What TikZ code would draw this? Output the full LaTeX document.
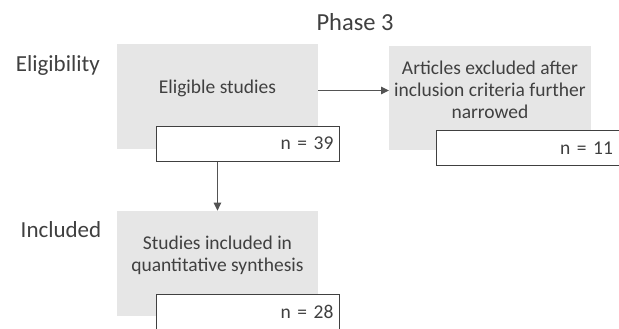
\documentclass[tikz,border=0pt]{standalone}
\usepackage{fontspec}
\setmainfont{Carlito}
\usetikzlibrary{arrows.meta}

\definecolor{flowgray}{HTML}{E6E6E6}
\definecolor{flowink}{HTML}{404040}
\newcommand\flowtitlestyle{\fontsize{24.5}{28}\selectfont}
\newcommand\flowlabelstyle{\fontsize{23}{27}\selectfont}
\newcommand\flowtextstyle{\fontsize{19.5}{22}\selectfont}
\newcommand\flowboxwidth{201.5pt}
\newcommand\flowboxheight{104pt}
\newcommand\flowcountwidth{183pt}
\newcommand\flowcountheight{35pt}
\newcommand\flowtextlift{8pt}

\tikzset{
  flowbox/.style={fill=flowgray, draw=none, anchor=north west, inner sep=0pt,
    minimum width=\flowboxwidth, minimum height=\flowboxheight},
  flowtext/.style={text=flowink, align=center, inner sep=0pt, font=\flowtextstyle},
  flowcount/.style={fill=white, draw=flowink, line width=.9pt, anchor=north west,
    inner sep=0pt, minimum height=\flowcountheight, text width=\flowcountwidth-12pt,
    align=right, text=flowink, font=\flowtextstyle},
  flowlabel/.style={text=flowink, inner sep=0pt, font=\flowlabelstyle},
  flowarrow/.style={draw=flowink!90, line width=1.2pt, -{Triangle[length=8pt, width=7.5pt]}},
}

\begin{document}
\begin{tikzpicture}[x=1pt, y=-1pt]
    \useasboundingbox (0, 0) rectangle (619, 329) ;
    \draw (355, 21.7) node[flowlabel, font=\flowtitlestyle] (phase) {Phase 3} ;
    \draw (100, 65) node[flowlabel, anchor=east] (eligibility) {Eligibility} ;
    \draw (101.5, 229.3) node[flowlabel, anchor=east] (included) {Included} ;
    % Eligibility
    \draw (116.5, 44.3) node[flowbox] (elig) {} ;
    \draw ([yshift=\flowtextlift]elig.center) node[flowtext] (eligtext) {Eligible studies} ;
    \draw (389, 45.7) node[flowbox] (excl) {} ;
    \draw ([yshift=\flowtextlift]excl.center) node[flowtext] (excltext)
      {Articles excluded after\\inclusion criteria further\\narrowed} ;
    \draw (156, 125.7) node[flowcount, inner xsep=6pt] (eligcount) {n = 39} ;
    \draw (435.5, 130.3) node[flowcount, inner xsep=6pt] (exclcount) {n = 11} ;
    % Included
    \draw (116.5, 210.7) node[flowbox, minimum height=105pt] (incl) {} ;
    \draw ([yshift=\flowtextlift]incl.center) node[flowtext] (incltext)
      {Studies included in\\quantitative synthesis} ;
    \draw (156, 293.5) node[flowcount, inner xsep=6pt] (inclcount) {n = 28} ;
    \draw[flowarrow] ([yshift=6pt]elig.east) -- ([yshift=6pt]elig.east -| excl.west) ;
    \draw[flowarrow] (elig.center |- eligcount.south) -- (incl.north) ;
  \end{tikzpicture}
\end{document}
